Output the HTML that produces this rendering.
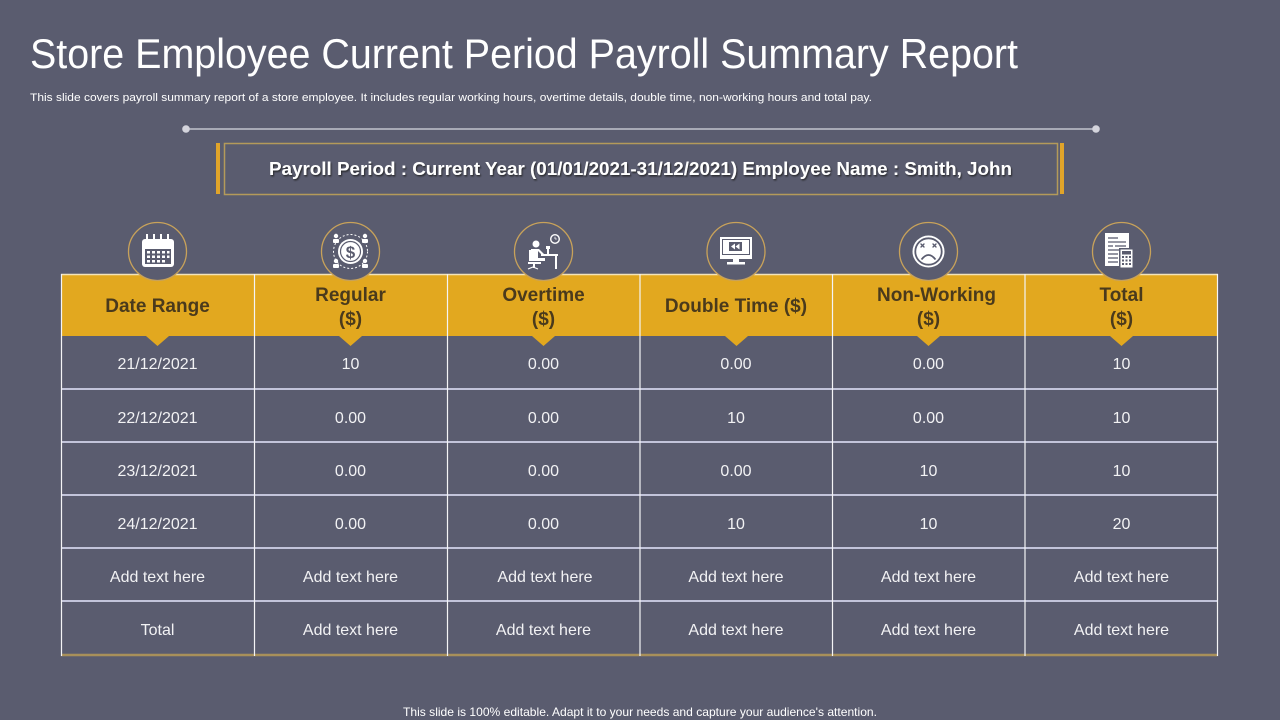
<!DOCTYPE html>
<html>
<head>
<meta charset="utf-8">
<style>
  html,body{margin:0;padding:0;background:#5A5C6F;}
  body{width:1280px;height:720px;overflow:hidden;}
  svg{display:block;}
  text{font-family:"Liberation Sans",Arial,sans-serif;}
</style>
</head>
<body>
<svg width="1280" height="720" viewBox="0 0 1280 720" xmlns="http://www.w3.org/2000/svg">
  <defs>
    <filter id="sh" x="-5%" y="-50%" width="110%" height="200%">
      <feDropShadow dx="1" dy="1.5" stdDeviation="0.8" flood-color="#222" flood-opacity="0.8"/>
    </filter>
  </defs>
  <rect width="1280" height="720" fill="#5A5C6F"/>

  <!-- Title -->
  <text x="30" y="68" font-size="42" fill="#ffffff" textLength="988" lengthAdjust="spacingAndGlyphs">Store Employee Current Period Payroll Summary Report</text>
  <text x="30" y="101" font-size="11" fill="#ffffff" textLength="842" lengthAdjust="spacingAndGlyphs">This slide covers payroll summary report of a store employee. It includes regular working hours, overtime details, double time, non-working hours and total pay.</text>

  <!-- connector line -->
  <line x1="186" y1="129" x2="1096" y2="129" stroke="#d8d8e0" stroke-width="1.3"/>
  <circle cx="186" cy="129" r="3.8" fill="#d4d4dc"/>
  <circle cx="1096" cy="129" r="3.8" fill="#d4d4dc"/>

  <!-- Payroll box -->
  <rect x="216" y="143" width="4" height="51" fill="#E0A42A"/>
  <rect x="1060" y="143" width="4" height="51" fill="#E0A42A"/>
  <rect x="224.5" y="143.5" width="833" height="51" fill="none" stroke="#b49a5a" stroke-width="1.5"/>
  <text x="269" y="175" font-size="18" font-weight="bold" fill="#ffffff" filter="url(#sh)" textLength="743" lengthAdjust="spacingAndGlyphs">Payroll Period : Current Year (01/01/2021-31/12/2021) Employee Name :   Smith, John</text>

  <!-- Table header -->
  <rect x="61" y="274" width="1157" height="62" fill="#E2A81F"/>
  <line x1="61" y1="274.5" x2="1218" y2="274.5" stroke="#f3e3b8" stroke-width="1.5"/>

  <!-- pointers -->
  <g fill="#E2A81F">
    <polygon points="146,336 169,336 157.5,346"/>
    <polygon points="339,336 362,336 350.5,346"/>
    <polygon points="532,336 555,336 543.5,346"/>
    <polygon points="725,336 748,336 736.5,346"/>
    <polygon points="917,336 940,336 928.5,346"/>
    <polygon points="1110,336 1133,336 1121.5,346"/>
  </g>

  <!-- horizontal row lines -->
  <g stroke="#c2c4da" stroke-width="2">
    <line x1="61" y1="389" x2="1218" y2="389"/>
    <line x1="61" y1="442" x2="1218" y2="442"/>
    <line x1="61" y1="495" x2="1218" y2="495"/>
    <line x1="61" y1="548" x2="1218" y2="548"/>
    <line x1="61" y1="601" x2="1218" y2="601"/>
  </g>
  <!-- bottom border -->
  <line x1="61" y1="655" x2="1218" y2="655" stroke="#a8905a" stroke-width="2.5"/>

  <!-- vertical lines -->
  <g stroke="#f4f4f6" stroke-width="1.2">
    <line x1="61.5" y1="274" x2="61.5" y2="656"/>
    <line x1="254.5" y1="274" x2="254.5" y2="656"/>
    <line x1="447.5" y1="274" x2="447.5" y2="656"/>
    <line x1="640" y1="274" x2="640" y2="656"/>
    <line x1="832.5" y1="274" x2="832.5" y2="656"/>
    <line x1="1025" y1="274" x2="1025" y2="656"/>
    <line x1="1217.5" y1="274" x2="1217.5" y2="656"/>
  </g>

  <!-- icon circles -->
  <g fill="#5A5C6F" stroke="#c8a25a" stroke-width="1.3">
    <circle cx="157.5" cy="251.5" r="29"/>
    <circle cx="350.5" cy="251.5" r="29"/>
    <circle cx="543.5" cy="251.5" r="29"/>
    <circle cx="736" cy="251.5" r="29"/>
    <circle cx="928.5" cy="251.5" r="29"/>
    <circle cx="1121.5" cy="251.5" r="29"/>
  </g>

  <!-- Icon 1: calendar -->
  <g>
    <rect x="142" y="239" width="32" height="28" rx="3" fill="#ffffff"/>
    <rect x="145" y="249" width="26" height="15" fill="#5A5C6F"/>
    <g fill="#ffffff">
      <rect x="146" y="234" width="2" height="8"/>
      <rect x="153" y="234" width="2" height="8"/>
      <rect x="160" y="234" width="2" height="8"/>
      <rect x="167" y="234" width="2" height="8"/>
      <rect x="147" y="251" width="3" height="2.5"/><rect x="152" y="251" width="3" height="2.5"/><rect x="157" y="251" width="3" height="2.5"/><rect x="162" y="251" width="3" height="2.5"/><rect x="167" y="251" width="2.5" height="2.5"/>
      <rect x="147" y="255.5" width="3" height="2.5"/><rect x="152" y="255.5" width="3" height="2.5"/><rect x="157" y="255.5" width="3" height="2.5"/><rect x="162" y="255.5" width="3" height="2.5"/><rect x="167" y="255.5" width="2.5" height="2.5"/>
      <rect x="147" y="260" width="3" height="2.5"/><rect x="152" y="260" width="3" height="2.5"/><rect x="157" y="260" width="3" height="2.5"/><rect x="162" y="260" width="3" height="2.5"/>
    </g>
  </g>

  <!-- Icon 2: dollar with people -->
  <g>
    <circle cx="350.5" cy="251.5" r="12.5" fill="#ffffff"/>
    <circle cx="350.5" cy="251.5" r="10" fill="none" stroke="#5A5C6F" stroke-width="1.2"/>
    <text x="350.5" y="258" font-size="17" font-weight="bold" fill="#5A5C6F" text-anchor="middle">$</text>
    <g fill="none" stroke="#ffffff" stroke-width="1" stroke-dasharray="2 2">
      <circle cx="350.5" cy="251.5" r="17"/>
    </g>
    <g fill="#ffffff">
      <circle cx="336" cy="236" r="2.2"/><rect x="333" y="239" width="6" height="4" rx="1"/>
      <circle cx="365" cy="236" r="2.2"/><rect x="362" y="239" width="6" height="4" rx="1"/>
      <circle cx="336" cy="261" r="2.2"/><rect x="333" y="264" width="6" height="4" rx="1"/>
      <circle cx="365" cy="261" r="2.2"/><rect x="362" y="264" width="6" height="4" rx="1"/>
    </g>
  </g>

  <!-- Icon 3: person at desk with clock -->
  <g fill="#ffffff">
    <circle cx="555" cy="239" r="5"/>
    <circle cx="555" cy="239" r="3.6" fill="#5A5C6F"/>
    <path d="M555 239 L555 236.8 M555 239 L556.8 239" stroke="#ffffff" stroke-width="0.8"/>
    <circle cx="536" cy="244" r="3.5"/>
    <path d="M531 249 h8 l5 5 h-3 l-3 -3 v7 h7 v3 h-14 z"/>
    <rect x="529" y="250" width="2" height="11"/>
    <rect x="528" y="262" width="13" height="2"/>
    <rect x="533" y="264" width="2" height="4"/>
    <path d="M528 269 l5 -2 l5 2" fill="none" stroke="#ffffff" stroke-width="1.2"/>
    <rect x="541" y="254" width="17" height="2"/>
    <rect x="555" y="256" width="2" height="13"/>
    <rect x="547" y="248" width="2" height="6"/>
    <rect x="546" y="246" width="4" height="3"/>
  </g>

  <!-- Icon 4: monitor -->
  <g>
    <rect x="720" y="237" width="32" height="22" fill="#ffffff"/>
    <rect x="722.5" y="239.5" width="27" height="15" fill="#ffffff" stroke="#5A5C6F" stroke-width="1"/>
    <rect x="729" y="242" width="13" height="9" fill="#5A5C6F"/>
    <polygon points="735,243.5 735,249.5 731,246.5" fill="#ffffff"/>
    <polygon points="739.5,243.5 739.5,249.5 735.5,246.5" fill="#ffffff"/>
    <rect x="733" y="259" width="6" height="3" fill="#ffffff"/>
    <rect x="727" y="262" width="18" height="2.5" fill="#ffffff"/>
  </g>

  <!-- Icon 5: sad face -->
  <g>
    <circle cx="928.5" cy="251.5" r="16" fill="#ffffff"/>
    <circle cx="928.5" cy="251.5" r="13.2" fill="#ffffff" stroke="#5A5C6F" stroke-width="1.8"/>
    <g stroke="#5A5C6F" stroke-width="1.4" stroke-linecap="round">
      <line x1="921" y1="244" x2="924" y2="247"/><line x1="924" y1="244" x2="921" y2="247"/>
      <line x1="933" y1="244" x2="936" y2="247"/><line x1="936" y1="244" x2="933" y2="247"/>
    </g>
    <path d="M921.5 259.5 Q928.5 250.5 935.5 259.5" fill="none" stroke="#5A5C6F" stroke-width="1.8"/>
  </g>

  <!-- Icon 6: document + calculator -->
  <g>
    <rect x="1105" y="233" width="24" height="33" fill="#ffffff"/>
    <g stroke="#5A5C6F" stroke-width="1.3">
      <line x1="1108" y1="238" x2="1118" y2="238"/>
      <line x1="1108" y1="242" x2="1126" y2="242"/>
      <line x1="1108" y1="246" x2="1113" y2="246"/><line x1="1115" y1="246" x2="1126" y2="246"/>
      <line x1="1108" y1="250" x2="1120" y2="250"/>
      <line x1="1108" y1="254" x2="1118" y2="254"/>
      <line x1="1108" y1="258" x2="1118" y2="258"/>
      <line x1="1108" y1="262" x2="1118" y2="262"/>
    </g>
    <rect x="1119" y="248" width="15" height="21" fill="#5A5C6F"/>
    <rect x="1120.5" y="249.5" width="12" height="18" fill="#ffffff"/>
    <rect x="1122" y="251" width="9" height="3.5" fill="#5A5C6F"/>
    <g fill="#5A5C6F">
      <rect x="1122" y="256" width="2" height="2"/><rect x="1125.5" y="256" width="2" height="2"/><rect x="1129" y="256" width="2" height="2"/>
      <rect x="1122" y="259.5" width="2" height="2"/><rect x="1125.5" y="259.5" width="2" height="2"/><rect x="1129" y="259.5" width="2" height="2"/>
      <rect x="1122" y="263" width="2" height="2"/><rect x="1125.5" y="263" width="2" height="2"/><rect x="1129" y="263" width="2" height="2"/>
    </g>
  </g>

  <!-- Header text -->
  <g font-size="19" font-weight="bold" fill="#4A3A1C" text-anchor="middle">
    <text x="157.5" y="312">Date Range</text>
    <text x="350.5" y="301">Regular</text>
    <text x="350.5" y="325">($)</text>
    <text x="543.5" y="301">Overtime</text>
    <text x="543.5" y="325">($)</text>
    <text x="736" y="312">Double Time ($)</text>
    <text x="936.5" y="301">Non-Working</text>
    <text x="928.5" y="325">($)</text>
    <text x="1121.5" y="301">Total</text>
    <text x="1121.5" y="325">($)</text>
  </g>

  <!-- Body text -->
  <g font-size="16" fill="#f2f2f4" text-anchor="middle">
    <text x="157.5" y="369">21/12/2021</text>
    <text x="350.5" y="369">10</text>
    <text x="543.5" y="369">0.00</text>
    <text x="736" y="369">0.00</text>
    <text x="928.5" y="369">0.00</text>
    <text x="1121.5" y="369">10</text>

    <text x="157.5" y="423">22/12/2021</text>
    <text x="350.5" y="423">0.00</text>
    <text x="543.5" y="423">0.00</text>
    <text x="736" y="423">10</text>
    <text x="928.5" y="423">0.00</text>
    <text x="1121.5" y="423">10</text>

    <text x="157.5" y="476">23/12/2021</text>
    <text x="350.5" y="476">0.00</text>
    <text x="543.5" y="476">0.00</text>
    <text x="736" y="476">0.00</text>
    <text x="928.5" y="476">10</text>
    <text x="1121.5" y="476">10</text>

    <text x="157.5" y="529">24/12/2021</text>
    <text x="350.5" y="529">0.00</text>
    <text x="543.5" y="529">0.00</text>
    <text x="736" y="529">10</text>
    <text x="928.5" y="529">10</text>
    <text x="1121.5" y="529">20</text>

    <text x="157.5" y="582">Add text here</text>
    <text x="350.5" y="582">Add text here</text>
    <text x="545" y="582">Add text here</text>
    <text x="736" y="582">Add text here</text>
    <text x="928.5" y="582">Add text here</text>
    <text x="1121.5" y="582">Add text here</text>

    <text x="157.5" y="635">Total</text>
    <text x="350.5" y="635">Add text here</text>
    <text x="543.5" y="635">Add text here</text>
    <text x="736" y="635">Add text here</text>
    <text x="928.5" y="635">Add text here</text>
    <text x="1121.5" y="635">Add text here</text>
  </g>

  <!-- footer -->
  <text x="403" y="716" font-size="12" fill="#ffffff" textLength="474" lengthAdjust="spacingAndGlyphs">This slide is 100% editable. Adapt it to your needs and capture your audience's attention.</text>
</svg>
</body>
</html>
